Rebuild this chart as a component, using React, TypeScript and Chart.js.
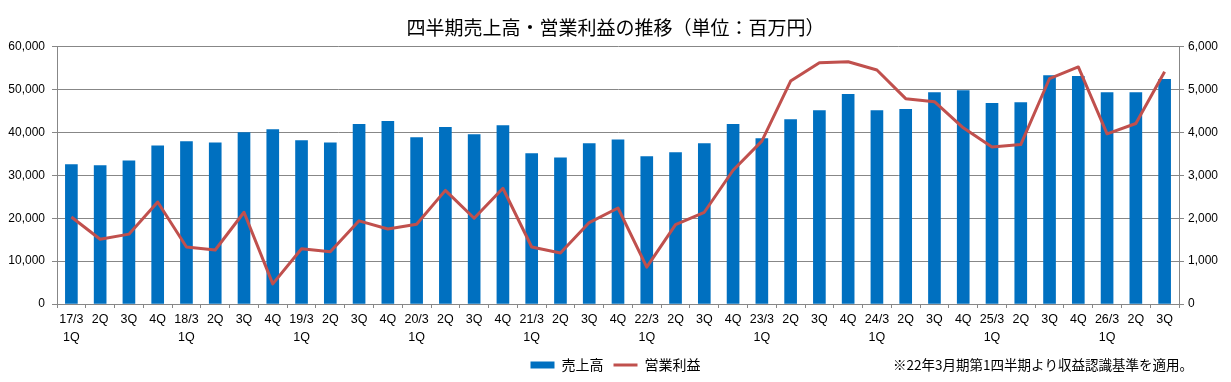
import React, { useEffect, useRef } from "react";
import { Chart, registerables } from "chart.js";

Chart.register(...registerables);

const TITLE = "四半期売上高・営業利益の推移（単位：百万円）";
const FOOTNOTE = "※22年3月期第1四半期より収益認識基準を適用。";
const SERIES_SALES = "売上高";
const SERIES_PROFIT = "営業利益";

const YEARS = ["17/3", "18/3", "19/3", "20/3", "21/3", "22/3", "23/3", "24/3", "25/3", "26/3"];
const QUARTERS = ["1Q", "2Q", "3Q", "4Q"];

// categories: 17/3 1Q ... 26/3 3Q (39 quarters)
const categories: (string | string[])[] = [];
YEARS.forEach((y, yi) => {
  QUARTERS.forEach((q, qi) => {
    if (yi === YEARS.length - 1 && qi > 2) return;
    categories.push(qi === 0 ? [y, q] : q);
  });
});

const sales = [
  32500, 32300, 33400, 36900,
  37900, 37600, 40000, 40700,
  38100, 37600, 41900, 42600,
  38800, 41200, 39500, 41600,
  35100, 34100, 37400, 38300,
  34400, 35300, 37400, 41900,
  38600, 43000, 45100, 48900,
  45100, 45400, 49300, 49800,
  46800, 47000, 53300, 53100,
  49300, 49300, 52400,
];

const operatingProfit = [
  2030, 1510, 1630, 2380,
  1330, 1260, 2140, 470,
  1290, 1220, 1940, 1750,
  1860, 2650, 2000, 2700,
  1330, 1190, 1900, 2240,
  860, 1850, 2140, 3120,
  3800, 5200, 5630, 5650,
  5460, 4790, 4720, 4110,
  3660, 3720, 5260, 5530,
  3970, 4210, 5420,
];

const LEFT_TICKS = [0, 10000, 20000, 30000, 40000, 50000, 60000];
const RIGHT_TICKS = [0, 1000, 2000, 3000, 4000, 5000, 6000];

const BLUE = "#0070C0";
const RED = "#C0504D";
const GRID = "#878787";
const NUM_FONT = "'Liberation Sans', Arial, sans-serif";
const JP_FONT = "'Noto Sans CJK JP', 'Noto Sans', sans-serif";

const footnotePlugin = {
  id: "footnote",
  afterDraw(chart: any) {
    const ctx = chart.ctx;
    ctx.save();
    ctx.font = `13.5px ${JP_FONT}`;
    ctx.fillStyle = "#000";
    ctx.textAlign = "left";
    ctx.textBaseline = "middle";
    ctx.fillText(FOOTNOTE, 893, 365);
    ctx.restore();
  },
};

export default function App() {
  const ref = useRef<HTMLCanvasElement | null>(null);

  useEffect(() => {
    document.body.style.margin = "0";
    const canvas = ref.current;
    if (!canvas) return;
    const chart = new Chart(canvas, {
      type: "bar",
      data: {
        labels: categories,
        datasets: [
          {
            type: "bar",
            label: SERIES_SALES,
            data: sales,
            backgroundColor: BLUE,
            borderWidth: 0,
            barThickness: 12,
            yAxisID: "y",
            order: 1,
            pointStyle: "rect",
          } as any,
          {
            type: "line",
            label: SERIES_PROFIT,
            data: operatingProfit,
            borderColor: RED,
            backgroundColor: RED,
            borderWidth: 3,
            pointRadius: 0,
            pointHoverRadius: 0,
            tension: 0,
            borderJoinStyle: "round",
            yAxisID: "y1",
            order: 0,
            pointStyle: "line",
          } as any,
        ],
      },
      options: {
        responsive: false,
        animation: false,
        layout: { padding: 0 },
        plugins: {
          tooltip: { enabled: false },
          title: {
            display: true,
            text: TITLE,
            color: "#000",
            font: { family: JP_FONT, size: 19, weight: "normal", lineHeight: 1.2 },
            padding: { top: 16.5, bottom: 7.5 },
          },
          legend: {
            display: true,
            position: "bottom",
            labels: {
              color: "#000",
              font: { family: JP_FONT, size: 14 },
              usePointStyle: true,
              pointStyleWidth: 24,
              boxHeight: 7,
              padding: 10,
              sort: (a: any, b: any) => a.datasetIndex - b.datasetIndex,
            },
          },
        },
        scales: {
          x: {
            offset: true,
            grid: {
              offset: true,
              drawOnChartArea: false,
              drawTicks: true,
              tickLength: 4,
              tickColor: GRID,
              color: GRID,
            },
            border: { display: true, color: GRID },
            ticks: {
              autoSkip: false,
              maxRotation: 0,
              minRotation: 0,
              padding: 3,
              color: "#000",
              font: { family: NUM_FONT, size: 12.5, lineHeight: 1.44 },
            },
            afterFit: (scale: any) => {
              scale.height = 44;
            },
          },
          y: {
            position: "left",
            min: 0,
            max: 60000,
            afterBuildTicks: (scale: any) => {
              scale.ticks = LEFT_TICKS.map((v) => ({ value: v }));
            },
            grid: {
              color: GRID,
              lineWidth: 1,
              drawTicks: true,
              tickLength: 5,
              tickColor: GRID,
            },
            border: { display: true, color: GRID },
            ticks: {
              padding: 7,
              color: "#000",
              font: { family: NUM_FONT, size: 12 },
              callback: (v: any) => Number(v).toLocaleString("en-US"),
            },
            afterFit: (scale: any) => {
              scale.width = 57;
            },
          },
          y1: {
            position: "right",
            min: 0,
            max: 6000,
            afterBuildTicks: (scale: any) => {
              scale.ticks = RIGHT_TICKS.map((v) => ({ value: v }));
            },
            grid: {
              drawOnChartArea: false,
              drawTicks: true,
              tickLength: 5,
              tickColor: GRID,
              color: GRID,
            },
            border: { display: true, color: GRID },
            ticks: {
              padding: 4,
              color: "#000",
              font: { family: NUM_FONT, size: 12 },
              callback: (v: any) => Number(v).toLocaleString("en-US"),
            },
            afterFit: (scale: any) => {
              scale.width = 52;
            },
          },
        },
      },
      plugins: [footnotePlugin],
    } as any);
    return () => chart.destroy();
  }, []);

  return (
    <div style={{ width: 1231, height: 382, background: "#fff" }}>
      <canvas ref={ref} width={1231} height={382} style={{ display: "block" }} />
    </div>
  );
}
